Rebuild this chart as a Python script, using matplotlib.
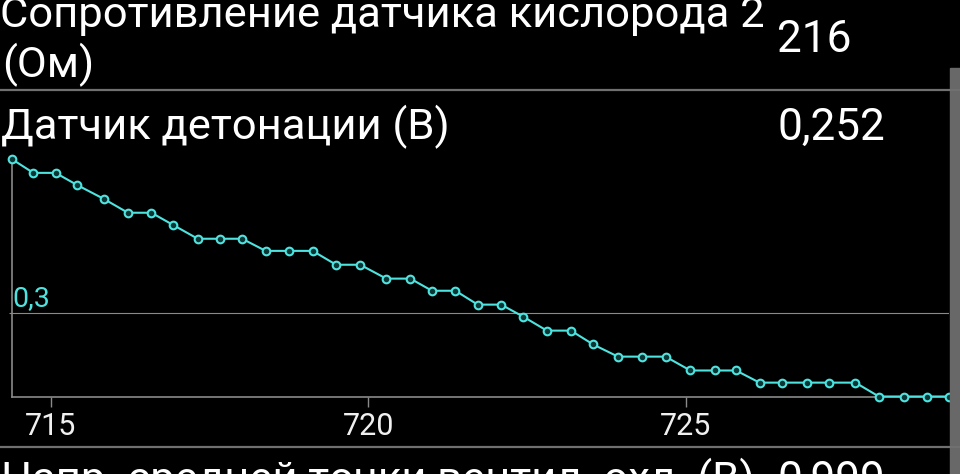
import matplotlib
matplotlib.use("Agg")
import matplotlib.pyplot as plt
from matplotlib.patches import Rectangle

plt.rcParams['font.family'] = ['Roboto', 'DejaVu Sans']

# time (s) and knock sensor voltage (V)
times = [714.38, 714.72, 715.07, 715.41, 715.83, 716.21, 716.58, 716.92, 717.31, 717.66,
         718.01, 718.38, 718.75, 719.12, 719.49, 719.87, 720.28, 720.66, 721.00, 721.37,
         721.72, 722.09, 722.44, 722.81, 723.19, 723.54, 723.93, 724.31, 724.68, 725.07,
         725.46, 725.79, 726.16, 726.52, 726.91, 727.26, 727.67, 728.04, 728.44, 728.80,
         729.14]
volts = [0.389, 0.381, 0.381, 0.374, 0.366, 0.358, 0.358, 0.351, 0.343, 0.343,
         0.343, 0.336, 0.336, 0.336, 0.328, 0.328, 0.320, 0.320, 0.313, 0.313,
         0.305, 0.305, 0.298, 0.290, 0.290, 0.282, 0.275, 0.275, 0.275, 0.267,
         0.267, 0.267, 0.260, 0.260, 0.260, 0.260, 0.260, 0.252, 0.252, 0.252,
         0.252]
xticks = [715, 720, 725]
grid_y = 0.3

rows = [("Сопротивление датчика кислорода 2", "216"),
        ("Датчик детонации (В)", "0,252"),
        ("Напр. средней точки вентил. охл. (В)", "0,999")]

W, H = 960, 474
cyan = "#4fe3df"
grey = "#8a8a8a"

fig = plt.figure(figsize=(W / 100, H / 100), dpi=100, facecolor="black")

def fx(px):
    return px / W

def fy(py):
    return 1 - py / H

ax = fig.add_axes([fx(11.7), fy(396.5), fx(948.7 - 11.7), (396.5 - 159) / H])
ax.set_facecolor("black")
ax.plot(times, volts, color=cyan, lw=1.5, marker="o", ms=5.5, mfc="#0b3534",
        mec=cyan, mew=1.5, clip_on=False, zorder=3)
ax.set_xlim(times[0], times[-1])
ax.set_ylim(min(volts), max(volts))

for s in ["top", "right"]:
    ax.spines[s].set_visible(False)
for s in ["left", "bottom"]:
    ax.spines[s].set_color(grey)
    ax.spines[s].set_linewidth(1.2)

ax.set_xticks(xticks)
ax.set_xticklabels([str(t) for t in xticks])
ax.tick_params(axis="x", colors=grey, labelcolor="#f0f0f0", length=7, width=1,
               labelsize=22, pad=4)
ax.set_yticks([grid_y])
ax.set_yticklabels([])
ax.tick_params(axis="y", colors=grey, length=2.5, width=0.8)
ax.axhline(grid_y, color=grey, lw=0.8, zorder=1)
ax.annotate("0,3", (times[0], grid_y), xytext=(0.5, 1), textcoords="offset points",
            color=cyan, fontsize=20.5, va="bottom", ha="left")

# list rows around the chart
lab, val = 31.3, 31.8
fig.text(fx(0), fy(27), rows[0][0], color="white", fontsize=lab, va="baseline")
fig.text(fx(2), fy(77), "(Ом)", color="white", fontsize=lab, va="baseline")
fig.text(fx(777), fy(52), rows[0][1], color="white", fontsize=val, va="baseline")
fig.text(fx(1), fy(139), rows[1][0], color="white", fontsize=lab, va="baseline")
fig.text(fx(777), fy(140), rows[1][1], color="white", fontsize=val, va="baseline")
fig.text(fx(1), fy(492), rows[2][0], color="white", fontsize=lab, va="baseline")
fig.text(fx(777), fy(493), rows[2][1], color="white", fontsize=val, va="baseline")

for y in [90, 447]:
    fig.add_artist(plt.Line2D([0, 1], [fy(y), fy(y)], color="#707070", lw=1.6))

# scrollbar
fig.add_artist(Rectangle((fx(950), 0), fx(10), fy(68), color="#686868"))

fig.savefig("out.png", dpi=100, facecolor="black")
